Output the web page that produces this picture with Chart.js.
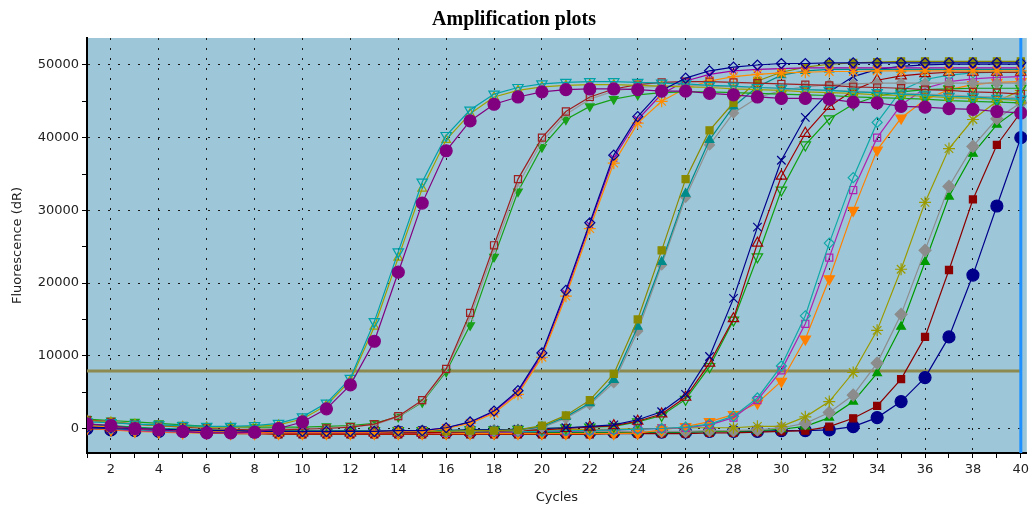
<!DOCTYPE html>
<html lang="en">
<head>
<meta charset="UTF-8" />
<title>Amplification plots</title>
<script src="https://cdn.jsdelivr.net/npm/chart.js"></script>
<style>
  html, body { margin: 0; padding: 0; background: #fff; }
</style>
</head>
<body>
<canvas id="ampChart" width="1034" height="506"></canvas>
<script>
// cycles and tick values
const cycles = [1,2,3,4,5,6,7,8,9,10,11,12,13,14,15,16,17,18,19,20,21,22,23,24,25,26,27,28,29,30,31,32,33,34,35,36,37,38,39,40];
const xTicks = cycles;
const yTicks = [0,5000,10000,15000,20000,25000,30000,35000,40000,45000,50000];
const threshold = 7900;
const cursorCycle = 40;

// fluorescence (dR) per cycle, one array per well
const cyanTri      = [900,800,600,500,400,300,300,400,700,1600,3500,6900,14700,24300,33900,40300,43800,46000,46900,47400,47600,47700,47700,47600,47500,47400,47200,47100,46900,46800,46600,46500,46300,46200,46000,45900,45700,45600,45400,45300];
const oliveTri     = [1100,900,600,400,300,200,200,300,500,1300,3200,6600,14000,23500,33000,39700,43300,45600,46500,47000,47200,47300,47300,47200,47100,47000,46900,46700,46600,46500,46300,46200,46100,45900,45800,45700,45500,45400,45300,45100];
const purpleDot    = [650,400,0,-200,-400,-600,-600,-500,0,900,2700,6000,12000,21500,31000,38200,42300,44600,45600,46300,46600,46700,46700,46600,46400,46400,46100,45900,45600,45400,45400,45300,44900,44800,44300,44200,44000,43900,43600,43400];
const brownSq      = [1200,900,600,400,200,0,-100,-200,-200,-100,0,200,600,1700,3900,8200,15900,25200,34300,40000,43600,45600,46700,47300,47600,47700,47700,47600,47500,47400,47300,47200,47000,46900,46800,46600,46500,46300,46200,46000];
const grayCross    = [1000,800,600,400,300,200,100,0,0,0,100,300,500,1600,3700,8000,15300,24500,33500,39500,43200,45300,46400,46900,47100,47200,47100,47000,46900,46800,46600,46500,46400,46200,46100,46000,45900,45700,45600,45500];
const greenTriDown = [1300,1100,900,700,500,300,200,200,200,200,300,400,700,1600,3600,7800,14200,23600,32600,38700,42500,44300,45300,45900,46200,46300,46300,46200,46100,46000,45900,45800,45600,45500,45400,45300,45100,45000,44900,44800];
const navyDiamond  = [200,100,0,-100,-200,-300,-300,-400,-400,-400,-400,-400,-400,-300,-300,100,900,2400,5200,10400,19000,28300,37600,42900,46500,48200,49200,49700,50000,50200,50200,50300,50300,50300,50300,50300,50300,50300,50300,50300];
const orangeStar   = [400,200,0,-200,-300,-400,-400,-500,-500,-500,-500,-500,-500,-400,-400,0,700,2100,4700,9800,18200,27500,36500,42000,45000,46800,47800,48400,48700,48900,49000,49100,49100,49200,49200,49200,49200,49200,49200,49200];
const magentaCross = [300,100,-100,-200,-300,-400,-400,-400,-500,-500,-500,-500,-400,-400,-300,100,800,2300,5000,10100,18600,28000,37200,42500,46000,47800,48700,49200,49400,49500,49600,49600,49600,49600,49600,49600,49600,49600,49600,49600];
const oliveSq      = [300,100,0,-200,-300,-400,-400,-400,-400,-400,-400,-400,-400,-400,-400,-400,-300,-300,-200,400,1800,3900,7500,15000,24500,34300,41000,44800,47800,49000,49700,50100,50300,50400,50500,50500,50500,50500,50500,50500];
const tealTri      = [500,300,100,0,-100,-200,-300,-300,-300,-300,-300,-300,-300,-300,-300,-300,-300,-300,-200,250,1600,3500,6700,14000,22900,32300,39700,44300,47000,48600,49200,49400,49400,49400,49400,49400,49400,49400,49400,49400];
const grayDiamond  = [400,200,0,-100,-200,-300,-300,-300,-400,-400,-400,-400,-400,-400,-400,-400,-400,-300,-300,100,1400,3300,6300,13400,22500,31800,39000,43400,45500,46500,47000,47300,47400,47500,47500,47500,47500,47500,47500,47500];
const navyCross    = [100,0,-100,-200,-200,-300,-300,-300,-300,-300,-300,-300,-300,-300,-300,-300,-200,-200,-100,0,100,300,500,1200,2300,4700,9900,17900,27700,36900,42800,46300,48400,49400,49800,50000,50100,50100,50100,50100];
const redTri       = [300,100,0,-100,-200,-300,-400,-500,-600,-600,-600,-600,-600,-600,-600,-500,-500,-400,-300,-200,0,200,400,1000,2000,4300,9000,15100,25500,34700,40600,44300,46500,47900,48500,48800,49000,49000,49000,49000];
const greenTriOpen = [600,400,200,0,-100,-200,-300,-300,-300,-300,-300,-300,-300,-300,-300,-300,-200,-200,-100,0,100,200,300,900,1800,4000,8500,14900,23600,32800,39000,42600,44600,45700,46300,46600,46700,46800,46800,46800];
const tealDiamond  = [200,0,-200,-300,-400,-400,-500,-500,-500,-500,-500,-500,-500,-500,-500,-500,-500,-400,-400,-400,-300,-300,-200,-100,0,200,600,1700,4200,8600,15500,25500,34500,42100,46500,48000,48600,48900,49000,49000];
const magentaSq    = [100,-100,-300,-400,-500,-500,-600,-600,-600,-600,-600,-600,-600,-600,-600,-600,-500,-500,-500,-400,-400,-300,-200,-100,0,100,500,1500,3900,8000,14400,23500,32800,40000,44500,46800,47700,48100,48300,48400];
const orangeTri    = [0,-200,-400,-500,-600,-600,-700,-700,-700,-700,-700,-700,-700,-700,-700,-700,-700,-700,-700,-700,-700,-700,-700,-650,-200,250,950,1900,3500,6500,12300,20600,30000,38300,42700,45200,46600,47300,47600,47700];
const oliveStar    = [200,0,-200,-300,-300,-400,-400,-400,-400,-400,-400,-400,-400,-400,-400,-300,-300,-300,-300,-200,-200,-100,-100,0,0,100,100,100,300,300,1600,3700,7700,13500,21900,31100,38500,42500,45000,46500];
const grayRhomb    = [300,100,-100,-200,-300,-400,-400,-400,-400,-400,-400,-400,-400,-400,-400,-400,-400,-400,-400,-400,-400,-400,-400,-400,-400,-400,-300,-300,-200,100,700,2200,4600,9000,15700,24500,33300,38800,42600,44800];
const greenTriFill = [500,300,100,-100,-200,-300,-400,-500,-500,-500,-500,-500,-500,-500,-500,-500,-500,-500,-500,-500,-500,-500,-500,-500,-500,-500,-400,-400,-300,-100,300,1500,3700,7600,14000,22900,31900,37800,41800,44200];
const darkRedSq    = [100,-100,-300,-400,-500,-600,-700,-700,-800,-800,-800,-800,-800,-800,-800,-800,-800,-800,-800,-800,-800,-800,-700,-700,-700,-700,-600,-600,-500,-400,-300,250,1400,3100,6800,12600,21800,31500,39000,43500];
const navyDot      = [0,-200,-300,-400,-400,-500,-500,-500,-500,-500,-500,-500,-500,-500,-500,-500,-500,-500,-500,-500,-500,-500,-500,-500,-500,-500,-400,-400,-400,-300,-300,-200,250,1500,3700,7000,12600,21100,30600,40000];

// first entry is drawn on top
const wells = [
  { values: purpleDot,    color: '#800080', shape: 'circle',   filled: true,  r: 6 },
  { values: navyDiamond,  color: '#000090', shape: 'rectRot',  filled: false, r: 5 },
  { values: cyanTri,      color: '#00A0A8', shape: 'triangle', filled: false, r: 6, rot: 180 },
  { values: oliveTri,     color: '#A0A000', shape: 'triangle', filled: false, r: 5 },
  { values: brownSq,      color: '#9E1F1F', shape: 'rect',     filled: false, r: 5 },
  { values: grayCross,    color: '#999999', shape: 'crossRot', filled: false, r: 5 },
  { values: greenTriDown, color: '#18A018', shape: 'triangle', filled: true,  r: 5, rot: 180 },
  { values: orangeStar,   color: '#FF8C00', shape: 'star',     filled: false, r: 6 },
  { values: magentaCross, color: '#A000A0', shape: 'crossRot', filled: false, r: 5 },
  { values: oliveSq,      color: '#8A8A00', shape: 'rect',     filled: true,  r: 5 },
  { values: tealTri,      color: '#008B8B', shape: 'triangle', filled: true,  r: 5 },
  { values: grayDiamond,  color: '#909090', shape: 'rectRot',  filled: true,  r: 5 },
  { values: navyCross,    color: '#00008B', shape: 'crossRot', filled: false, r: 6 },
  { values: redTri,       color: '#A00000', shape: 'triangle', filled: false, r: 6 },
  { values: greenTriOpen, color: '#10A010', shape: 'triangle', filled: false, r: 6, rot: 180 },
  { values: tealDiamond,  color: '#10A8A8', shape: 'rectRot',  filled: false, r: 5 },
  { values: magentaSq,    color: '#B020B0', shape: 'rect',     filled: false, r: 5 },
  { values: orangeTri,    color: '#FF8000', shape: 'triangle', filled: true,  r: 6, rot: 180 },
  { values: oliveStar,    color: '#9A9A00', shape: 'star',     filled: false, r: 6 },
  { values: grayRhomb,    color: '#8C8C8C', shape: 'rectRot',  filled: true,  r: 6 },
  { values: greenTriFill, color: '#009900', shape: 'triangle', filled: true,  r: 5 },
  { values: darkRedSq,    color: '#8B0000', shape: 'rect',     filled: true,  r: 5 },
  { values: navyDot,      color: '#00008B', shape: 'circle',   filled: true,  r: 6 }
];

const datasets = wells.map(w => ({
  data: cycles.map((c, i) => ({ x: c, y: w.values[i] })),
  borderColor: w.color,
  borderWidth: 1.2,
  pointStyle: w.shape,
  pointRadius: w.r,
  pointRotation: w.rot || 0,
  pointBorderColor: w.color,
  pointBorderWidth: 1.2,
  pointBackgroundColor: w.filled ? w.color : 'rgba(0,0,0,0)',
  tension: 0
}));

datasets.push({
  data: cycles.map(c => ({ x: c, y: threshold })),
  borderColor: '#8C8A4E',
  borderWidth: 3,
  pointRadius: 0
});

const plotBackground = {
  id: 'plotBackground',
  beforeDraw(chart) {
    const { ctx, chartArea: a } = chart;
    ctx.save();
    ctx.fillStyle = '#9DC7D8';
    ctx.fillRect(a.left, a.top, a.right - a.left, a.bottom - a.top);
    ctx.restore();
  }
};

const cycleCursor = {
  id: 'cycleCursor',
  afterDatasetsDraw(chart) {
    const { ctx, chartArea: a, scales } = chart;
    const x = scales.x.getPixelForValue(cursorCycle);
    ctx.save();
    ctx.strokeStyle = '#1E90FF';
    ctx.lineWidth = 3;
    ctx.beginPath();
    ctx.moveTo(x, a.top);
    ctx.lineTo(x, a.bottom);
    ctx.stroke();
    ctx.restore();
  }
};

const tickFont = { family: 'DejaVu Sans', size: 13 };

new Chart(document.getElementById('ampChart'), {
  type: 'line',
  data: { datasets },
  plugins: [plotBackground, cycleCursor],
  options: {
    responsive: false,
    animation: false,
    layout: { padding: { left: 0, right: 6, top: 0, bottom: 0 } },
    plugins: {
      legend: { display: false },
      tooltip: { enabled: false },
      title: {
        display: true,
        text: 'Amplification plots',
        color: '#000',
        font: { family: 'Liberation Serif', size: 20, weight: 'bold' },
        padding: { top: 8, bottom: 6 }
      }
    },
    scales: {
      x: {
        type: 'linear',
        min: 1,
        max: 40.25,
        afterBuildTicks: s => { s.ticks = xTicks.map(v => ({ value: v })); },
        afterFit: s => { s.height = 53; },
        ticks: {
          autoSkip: false,
          maxRotation: 0,
          padding: 4,
          color: '#222',
          font: tickFont,
          callback: v => (v % 2 === 0 ? String(v) : '')
        },
        grid: {
          color: c => (c.tick && c.tick.value % 2 === 0 ? '#1a1a1a' : 'rgba(0,0,0,0)'),
          tickColor: '#000',
          tickLength: 5,
          lineWidth: 1
        },
        border: { color: '#000', width: 2, dash: [2, 8] },
        title: {
          display: true,
          text: 'Cycles',
          color: '#222',
          font: tickFont,
          padding: { top: 0, bottom: 1 }
        }
      },
      y: {
        min: -3370,
        max: 53710,
        afterBuildTicks: s => { s.ticks = yTicks.map(v => ({ value: v })); },
        afterFit: s => { s.width = 87; },
        ticks: {
          padding: 3,
          color: '#222',
          font: tickFont,
          callback: v => (v % 10000 === 0 ? String(v) : '')
        },
        grid: {
          color: c => (c.tick && c.tick.value % 10000 === 0 ? '#1a1a1a' : 'rgba(0,0,0,0)'),
          tickColor: '#000',
          tickLength: 5,
          lineWidth: 1
        },
        border: { color: '#000', width: 2, dash: [2, 8] },
        title: {
          display: true,
          text: 'Fluorescence (dR)',
          color: '#222',
          font: tickFont,
          padding: { top: 10, bottom: 0 }
        }
      }
    }
  }
});
</script>
</body>
</html>
